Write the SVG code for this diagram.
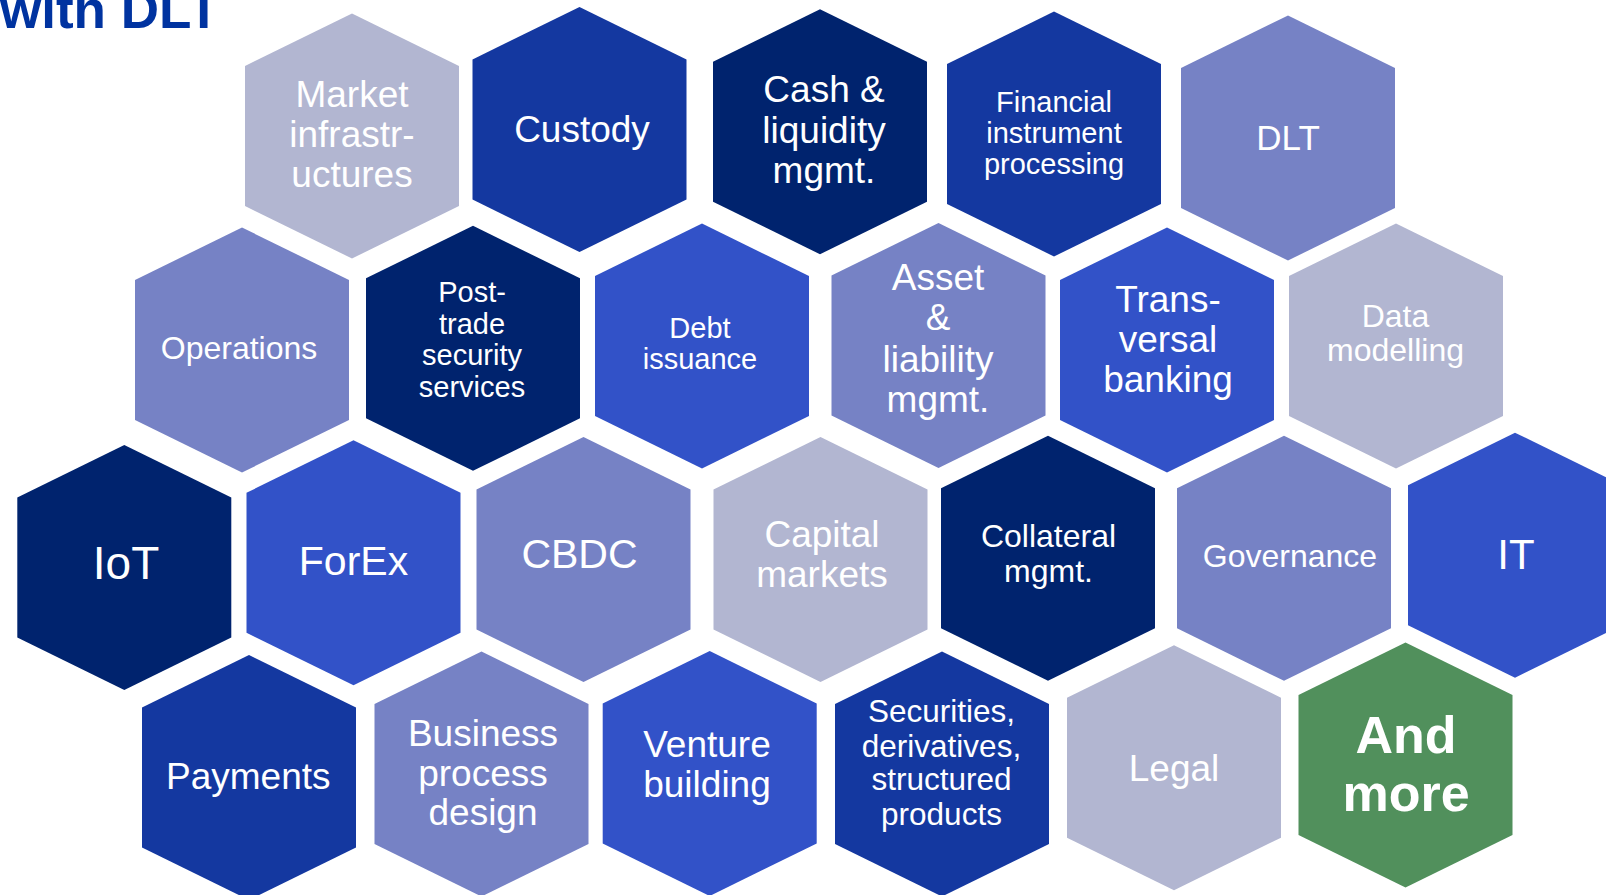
<svg xmlns="http://www.w3.org/2000/svg" xmlns:xlink="http://www.w3.org/1999/xlink" width="1606" height="895" viewBox="0 0 1606 895">
<defs>
<polygon id="hex" points="0,-122.5 107,-70 107,70 0,122.5 -107,70 -107,-70"/>
<style>
.l1{fill:#B2B6D1}
.l2{fill:#7682C5}
.b1{fill:#3252C8}
.b2{fill:#1438A0}
.nv{fill:#00236E}
.gr{fill:#51905C}
text{font-family:"Liberation Sans",Arial,sans-serif;fill:#FFFFFF;text-anchor:middle}
.t37{font-size:37px}
.t32{font-size:32px}
.t29{font-size:29px}
.title{font-size:53px;font-weight:bold;fill:#0033A0;text-anchor:start}
</style>
</defs>
<rect width="1606" height="895" fill="#FFFFFF"/>
<text class="title" x="0" y="28">with DLT</text>
<g id="connectors"></g>

<g id="market-infrastructures"><use xlink:href="#hex" x="352" y="136" class="l1"/><text class="t37" x="352"><tspan x="352" y="107">Market</tspan><tspan x="352" y="147">infrastr-</tspan><tspan x="352" y="187">uctures</tspan></text></g>
<g id="custody"><use xlink:href="#hex" x="579.5" y="129.5" class="b2"/><text class="t37" x="582" y="141.5">Custody</text></g>
<g id="cash-liquidity"><use xlink:href="#hex" x="820" y="131.7" class="nv"/><text class="t37"><tspan x="824" y="101.7">Cash &amp;</tspan><tspan x="824" y="143">liquidity</tspan><tspan x="824" y="182.5">mgmt.</tspan></text></g>
<g id="financial-instrument"><use xlink:href="#hex" x="1054" y="134" class="b2"/><text class="t29"><tspan x="1054" y="111.5">Financial</tspan><tspan x="1054" y="143">instrument</tspan><tspan x="1054" y="174">processing</tspan></text></g>
<g id="dlt"><use xlink:href="#hex" x="1288" y="138" class="l2"/><text x="1288" y="150" style="font-size:35px">DLT</text></g>

<g id="operations"><use xlink:href="#hex" x="242" y="350" class="l2"/><text class="t32" x="239" y="359.3">Operations</text></g>
<g id="post-trade"><use xlink:href="#hex" x="473" y="348.3" class="nv"/><text class="t29"><tspan x="472" y="302.3">Post-</tspan><tspan x="472" y="333.5">trade</tspan><tspan x="472" y="365">security</tspan><tspan x="472" y="396.7">services</tspan></text></g>
<g id="debt-issuance"><use xlink:href="#hex" x="702" y="346" class="b1"/><text class="t29"><tspan x="700" y="337.7">Debt</tspan><tspan x="700" y="369.3">issuance</tspan></text></g>
<g id="asset-liability"><use xlink:href="#hex" x="938.5" y="345.5" class="l2"/><text class="t37"><tspan x="938" y="290">Asset</tspan><tspan x="938" y="330">&amp;</tspan><tspan x="938" y="371.5">liability</tspan><tspan x="938" y="411.5">mgmt.</tspan></text></g>
<g id="transversal-banking"><use xlink:href="#hex" x="1167" y="350" class="b1"/><text class="t37"><tspan x="1168" y="312.3">Trans-</tspan><tspan x="1168" y="352.3">versal</tspan><tspan x="1168" y="391.7">banking</tspan></text></g>
<g id="data-modelling"><use xlink:href="#hex" x="1396" y="346" class="l1"/><text class="t32"><tspan x="1395.5" y="326.7">Data</tspan><tspan x="1395.5" y="360.7">modelling</tspan></text></g>

<g id="iot"><use xlink:href="#hex" x="124.3" y="567.5" class="nv"/><text x="126" y="579.3" style="font-size:46px">IoT</text></g>
<g id="forex"><use xlink:href="#hex" x="353.5" y="562.8" class="b1"/><text x="353.5" y="575" style="font-size:41px">ForEx</text></g>
<g id="cbdc"><use xlink:href="#hex" x="583.5" y="559.5" class="l2"/><text x="579.5" y="568.3" style="font-size:41px">CBDC</text></g>
<g id="capital-markets"><use xlink:href="#hex" x="820.5" y="559.5" class="l1"/><text class="t37"><tspan x="822" y="547.3">Capital</tspan><tspan x="822" y="586.7">markets</tspan></text></g>
<g id="collateral"><use xlink:href="#hex" x="1048" y="558.3" class="nv"/><text class="t32"><tspan x="1048.5" y="547.3">Collateral</tspan><tspan x="1048.5" y="582.3">mgmt.</tspan></text></g>
<g id="governance"><use xlink:href="#hex" x="1284" y="558.3" class="l2"/><text class="t32" x="1290" y="567.3">Governance</text></g>
<g id="it"><use xlink:href="#hex" x="1515" y="555.2" class="b1"/><text x="1516" y="569" style="font-size:42px">IT</text></g>

<g id="payments"><use xlink:href="#hex" x="249" y="777.5" class="b2"/><text class="t37" x="248.3" y="789">Payments</text></g>
<g id="business-process"><use xlink:href="#hex" x="481.5" y="774" class="l2"/><text class="t37"><tspan x="483" y="746">Business</tspan><tspan x="483" y="786">process</tspan><tspan x="483" y="825">design</tspan></text></g>
<g id="venture-building"><use xlink:href="#hex" x="709.7" y="773.5" class="b1"/><text class="t37"><tspan x="707" y="757.3">Venture</tspan><tspan x="707" y="796.7">building</tspan></text></g>
<g id="securities"><use xlink:href="#hex" x="942" y="774" class="b2"/><text style="font-size:31.5px"><tspan x="941.5" y="721.7">Securities,</tspan><tspan x="941.5" y="756.7">derivatives,</tspan><tspan x="941.5" y="790">structured</tspan><tspan x="941.5" y="825">products</tspan></text></g>
<g id="legal"><use xlink:href="#hex" x="1174" y="767.7" class="l1"/><text class="t37" x="1174" y="780.5">Legal</text></g>
<g id="and-more"><use xlink:href="#hex" x="1405.5" y="765" class="gr"/><text style="font-size:52px;font-weight:bold"><tspan x="1406" y="753.3">And</tspan><tspan x="1406" y="810.7">more</tspan></text></g>
</svg>
